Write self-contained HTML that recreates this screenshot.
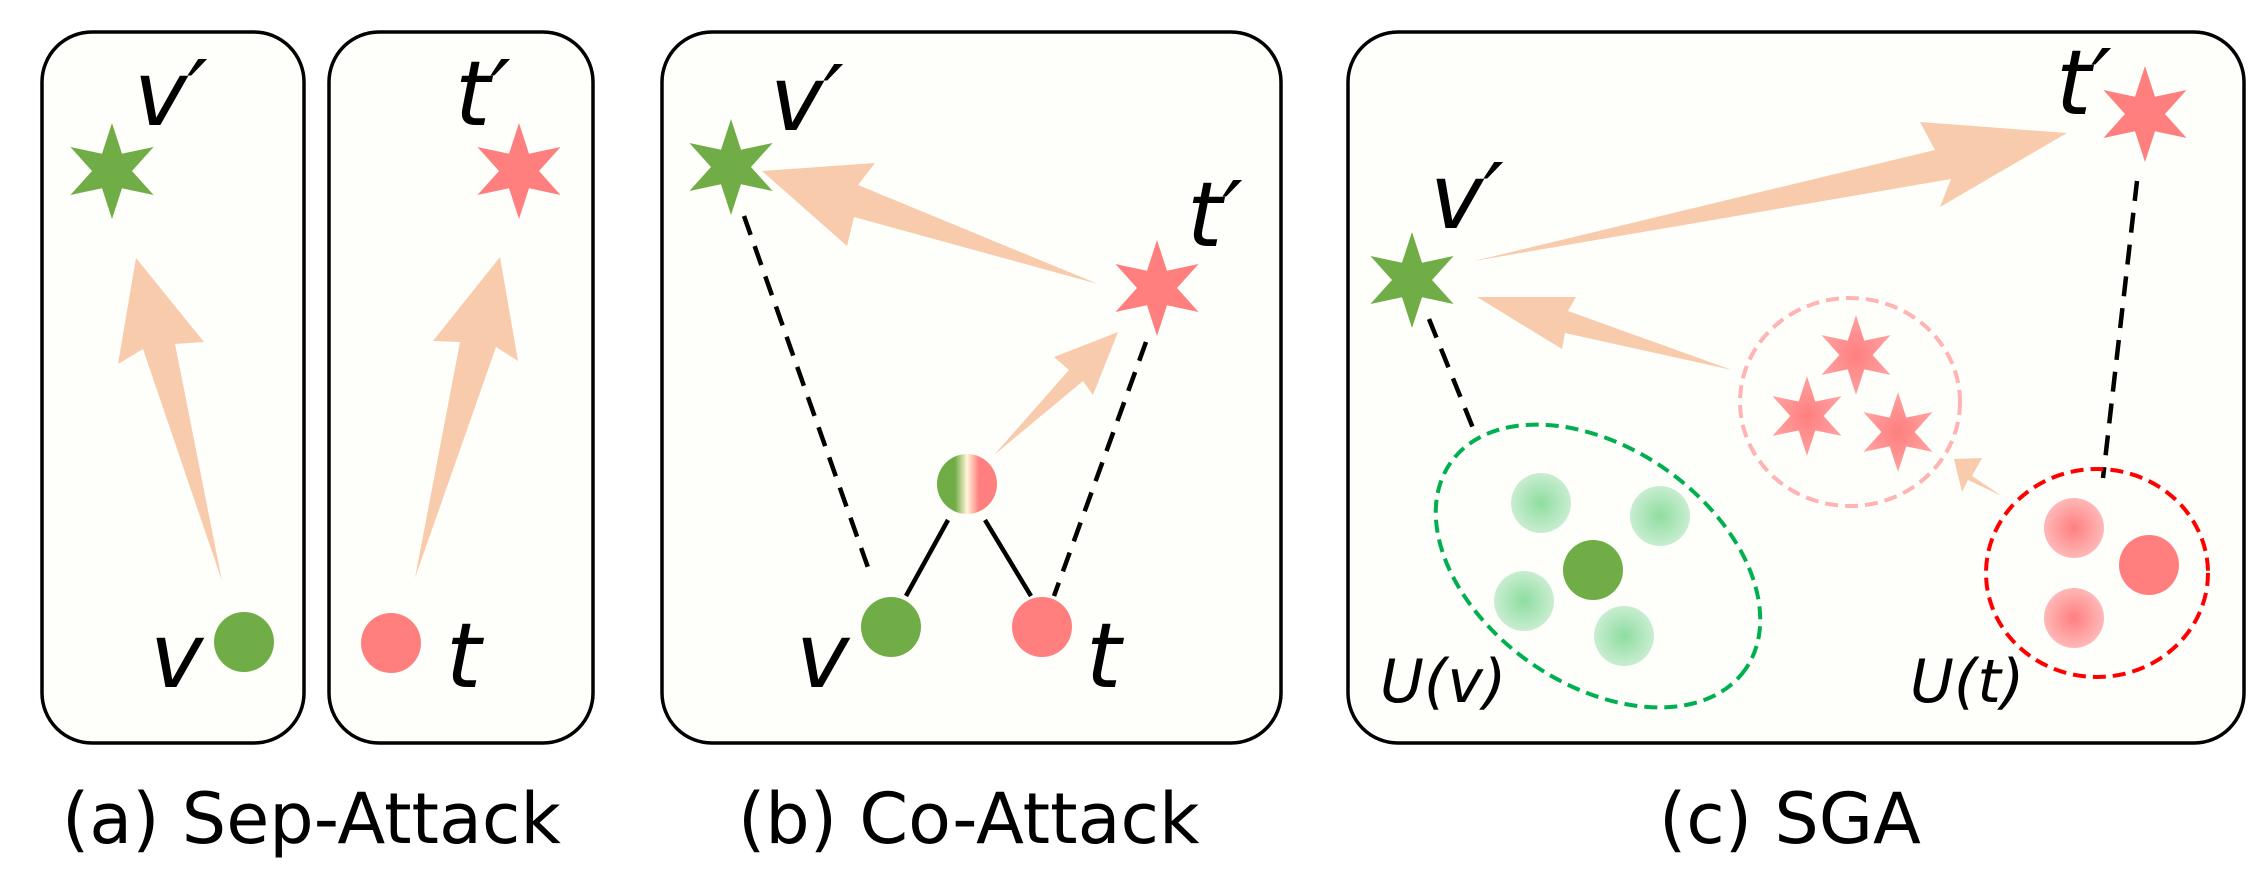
<!DOCTYPE html>
<html><head><meta charset="utf-8"><style>
html,body{margin:0;padding:0;background:#fff;}
svg{display:block;}
.it{font-family:"DejaVu Sans","Liberation Sans",sans-serif;font-style:italic;fill:#000;}
.cap{font-family:"DejaVu Sans","Liberation Sans",sans-serif;font-size:70px;fill:#000;}
</style></head><body>
<svg width="2267" height="890" viewBox="0 0 2267 890" xmlns="http://www.w3.org/2000/svg">
<defs>
<polygon id="st" points="0,-48 10,-17.3 41.6,-24 20,0 41.6,24 10,17.3 0,48 -10,17.3 -41.6,24 -20,0 -41.6,-24 -10,-17.3"/>
<linearGradient id="mix" x1="0" x2="1" y1="0" y2="0">
<stop offset="0" stop-color="#70AD47"/><stop offset="0.3" stop-color="#70AD47"/><stop offset="0.5" stop-color="#FFF6D8"/><stop offset="0.7" stop-color="#FF7F7F"/><stop offset="1" stop-color="#FF7F7F"/>
</linearGradient>
<radialGradient id="gfade"><stop offset="0" stop-color="#8EDDA0"/><stop offset="1" stop-color="#C8EDD0"/></radialGradient>
<radialGradient id="pfade"><stop offset="0" stop-color="#FF7F7F"/><stop offset="1" stop-color="#FFB8B8"/></radialGradient>
<radialGradient id="pstar"><stop offset="0" stop-color="#FF7F7F"/><stop offset="1" stop-color="#FFA0A0"/></radialGradient>
</defs>

<rect x="42" y="32" width="262" height="711" rx="50" fill="#FEFEFA" stroke="#000" stroke-width="3.5"/>
<rect x="329" y="32" width="264" height="711" rx="50" fill="#FEFEFA" stroke="#000" stroke-width="3.5"/>
<rect x="662" y="32" width="619" height="711" rx="50" fill="#FEFEFA" stroke="#000" stroke-width="3.5"/>
<rect x="1348" y="32" width="896" height="711" rx="50" fill="#FEFEFA" stroke="#000" stroke-width="3.5"/>

<!-- panel a -->
<polygon points="222,581 143,349 118,364 136,258 204,342 175,344" fill="#F8CBAD"/>
<use href="#st" x="112" y="171" fill="#70AD47"/>
<text class="it" x="134" y="125" font-size="90">v′</text>
<circle cx="244" cy="642" r="30" fill="#70AD47"/>
<text class="it" x="150" y="687" font-size="90">v</text>

<polygon points="415,578 460,342 433,341 500,257 518,361 496,347" fill="#F8CBAD"/>
<use href="#st" x="519" y="171" fill="#FF7F7F"/>
<text class="it" x="455" y="125" font-size="90">t′</text>
<circle cx="391" cy="643" r="30" fill="#FF7F7F"/>
<text class="it" x="446" y="687" font-size="90">t</text>

<!-- panel b -->
<line x1="744" y1="216" x2="871" y2="576" stroke="#000" stroke-width="4.5" stroke-dasharray="20,12"/>
<line x1="1146" y1="342" x2="1054" y2="596" stroke="#000" stroke-width="4.5" stroke-dasharray="20,12"/>
<line x1="948" y1="520" x2="906" y2="596" stroke="#000" stroke-width="4.5"/>
<line x1="985" y1="520" x2="1031" y2="596" stroke="#000" stroke-width="4.5"/>
<polygon points="1098,284 858,185 875,163 762,171 847,246 854,217" fill="#F8CBAD"/>
<polygon points="994,455 1069,370 1054,357 1118,332 1093,395 1083,381" fill="#F8CBAD"/>
<use href="#st" x="731" y="167" fill="#70AD47"/>
<use href="#st" x="1157" y="288" fill="#FF7F7F"/>
<text class="it" x="770" y="130" font-size="90">v′</text>
<text class="it" x="1187" y="246" font-size="90">t′</text>
<circle cx="967" cy="484" r="30" fill="url(#mix)"/>
<circle cx="891" cy="627" r="30" fill="#70AD47"/>
<circle cx="1042" cy="627" r="30" fill="#FF7F7F"/>
<text class="it" x="796" y="687" font-size="90">v</text>
<text class="it" x="1086" y="687" font-size="90">t</text>

<!-- panel c -->
<line x1="1429" y1="319" x2="1477" y2="438" stroke="#000" stroke-width="4.5" stroke-dasharray="20,12"/>
<line x1="2137" y1="181" x2="2103" y2="478" stroke="#000" stroke-width="4.5" stroke-dasharray="20,12"/>
<polygon points="1474,261 1935,150 1920,122 2067,133 1940,207 1951,179" fill="#F8CBAD"/>
<polygon points="1732,370 1568,311 1576,297 1477,297 1562,349 1565,333" fill="#F8CBAD"/>
<polygon points="2002,496 1972,476 1982,458 1954,459 1962,492 1968,480" fill="#F8CBAD"/>
<use href="#st" x="1412" y="280" fill="#70AD47"/>
<use href="#st" x="2145" y="114" fill="#FF7F7F"/>
<text class="it" x="1430" y="228" font-size="90">v′</text>
<text class="it" x="2056" y="114" font-size="90">t′</text>

<ellipse cx="1598" cy="566" rx="180" ry="118" transform="rotate(35 1598 566)" fill="none" stroke="#00B050" stroke-width="4" stroke-dasharray="13,7"/>
<circle cx="1541" cy="503" r="30" fill="url(#gfade)"/>
<circle cx="1660" cy="516" r="30" fill="url(#gfade)"/>
<circle cx="1524" cy="601" r="30" fill="url(#gfade)"/>
<circle cx="1624" cy="636" r="30" fill="url(#gfade)"/>
<circle cx="1593" cy="570" r="30" fill="#70AD47"/>

<ellipse cx="1850" cy="402" rx="110" ry="104" fill="none" stroke="#FFB3B3" stroke-width="4" stroke-dasharray="13,7"/>
<use href="#st" transform="translate(1856 355) scale(0.83)" fill="url(#pstar)"/>
<use href="#st" transform="translate(1807 416) scale(0.83)" fill="url(#pstar)"/>
<use href="#st" transform="translate(1898 432) scale(0.83)" fill="url(#pstar)"/>

<ellipse cx="2097" cy="573" rx="111" ry="104" fill="none" stroke="#FF0000" stroke-width="4" stroke-dasharray="13,7"/>
<circle cx="2074" cy="528" r="30" fill="url(#pfade)"/>
<circle cx="2074" cy="618" r="30" fill="url(#pfade)"/>
<circle cx="2149" cy="565" r="30" fill="#FF7F7F"/>

<text class="it" x="1380" y="702" font-size="60">U(v)</text>
<text class="it" x="1910" y="702" font-size="60">U(t)</text>

<text class="cap" x="62" y="843">(a) Sep-Attack</text>
<text class="cap" x="738" y="843">(b) Co-Attack</text>
<text class="cap" x="1659" y="843">(c) SGA</text>
</svg>
</body></html>
